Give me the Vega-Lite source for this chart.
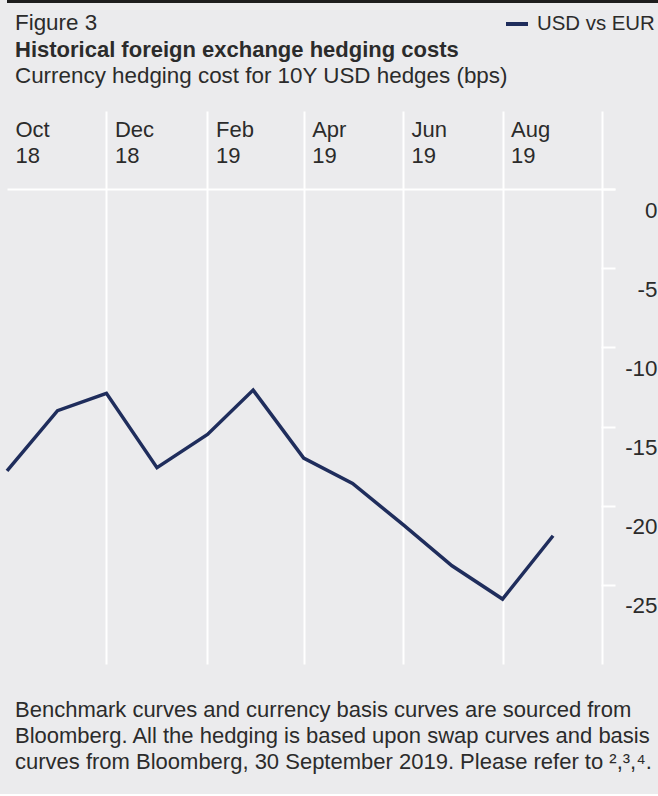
{
  "$schema": "https://vega.github.io/schema/vega-lite/v6.json",
  "background": "#ebebed",
  "padding": {"left": 0, "top": 0, "right": 0, "bottom": 21},
  "spacing": 35,
  "config": {
    "font": "Liberation Sans",
    "view": {"stroke": null}
  },
  "vconcat": [
    {
      "width": 651,
      "height": 3,
      "view": {"fill": "#1d1d1d", "stroke": null},
      "data": {"values": [{"series": "USD vs EUR"}]},
      "mark": {"type": "line", "strokeWidth": 0},
      "encoding": {
        "color": {
          "field": "series",
          "type": "nominal",
          "scale": {"range": ["#1f2d5c"]},
          "legend": {
            "orient": "none",
            "legendX": 8,
            "legendY": 11,
            "direction": "horizontal",
            "title": "Figure 3",
            "titleOrient": "left",
            "titlePadding": 406,
            "titleFont": "Liberation Sans",
            "titleFontSize": 22.4,
            "titleFontWeight": "normal",
            "titleColor": "#2b2b2b",
            "labelFont": "Liberation Sans",
            "labelFontSize": 20.4,
            "labelColor": "#2b2b2b",
            "labelOffset": 7,
            "symbolType": "stroke",
            "symbolSize": 484,
            "symbolStrokeWidth": 4,
            "padding": 0
          }
        }
      }
    },
    {
      "width": 608,
      "height": 475,
      "title": {
        "text": "Historical foreign exchange hedging costs",
        "subtitle": "Currency hedging cost for 10Y USD hedges (bps)",
        "anchor": "start",
        "frame": "group",
        "dx": 8,
        "offset": 22,
        "font": "Liberation Sans",
        "fontSize": 22,
        "fontWeight": "bold",
        "color": "#2b2b2b",
        "subtitleFont": "Liberation Sans",
        "subtitleFontSize": 22.4,
        "subtitleColor": "#2b2b2b",
        "subtitlePadding": 3
      },
      "data": {
        "values": [
          {"date": "2018-10-01", "value": -17.8},
          {"date": "2018-11-01", "value": -14.0},
          {"date": "2018-12-01", "value": -12.9},
          {"date": "2019-01-01", "value": -17.6},
          {"date": "2019-02-01", "value": -15.5},
          {"date": "2019-03-01", "value": -12.7},
          {"date": "2019-04-01", "value": -17.0},
          {"date": "2019-05-01", "value": -18.6},
          {"date": "2019-06-01", "value": -21.2},
          {"date": "2019-07-01", "value": -23.8},
          {"date": "2019-08-01", "value": -25.9},
          {"date": "2019-09-01", "value": -21.9}
        ]
      },
      "mark": {"type": "line", "color": "#1f2d5c", "strokeWidth": 3.5},
      "encoding": {
        "x": {
          "field": "date",
          "type": "temporal",
          "scale": {
            "type": "utc",
            "nice": false,
            "domain": [
              {"year": 2018, "month": 10, "date": 1, "utc": true},
              {"year": 2019, "month": 10, "date": 9, "utc": true}
            ]
          },
          "axis": {
            "orient": "top",
            "title": null,
            "values": [
              {"year": 2018, "month": 10, "date": 1, "utc": true},
              {"year": 2018, "month": 12, "date": 1, "utc": true},
              {"year": 2019, "month": 2, "date": 1, "utc": true},
              {"year": 2019, "month": 4, "date": 1, "utc": true},
              {"year": 2019, "month": 6, "date": 1, "utc": true},
              {"year": 2019, "month": 8, "date": 1, "utc": true},
              {"year": 2019, "month": 10, "date": 1, "utc": true}
            ],
            "domain": false,
            "ticks": true,
            "tickSize": 78,
            "tickColor": "#ffffff",
            "tickWidth": 2,
            "tickOpacity": {"condition": {"test": "utcyear(datum.value) == 2018 && utcmonth(datum.value) == 9", "value": 0}, "value": 1},
            "grid": true,
            "gridColor": "#ffffff",
            "gridWidth": 2,
            "gridOpacity": {"condition": {"test": "utcyear(datum.value) == 2018 && utcmonth(datum.value) == 9", "value": 0}, "value": 1},
            "labelExpr": "utcyear(datum.value) == 2019 && utcmonth(datum.value) == 9 ? '' : [utcFormat(datum.value, '%b'), utcFormat(datum.value, '%y')]",
            "labelAlign": "left",
            "labelBaseline": "alphabetic",
            "labelOffset": 8,
            "labelPadding": -25,
            "labelFont": "Liberation Sans",
            "labelFontSize": 22,
            "labelLineHeight": 26,
            "labelColor": "#2b2b2b",
            "labelFlush": false,
            "labelOverlap": false,
            "labelBound": false
          }
        },
        "y": {
          "field": "value",
          "type": "quantitative",
          "scale": {"domain": [-30, 0], "nice": false, "zero": false},
          "axis": {
            "orient": "right",
            "title": null,
            "values": [0, -5, -10, -15, -20, -25],
            "domain": false,
            "tickSize": -14,
            "tickColor": "#ffffff",
            "tickWidth": 2,
            "grid": true,
            "gridColor": "#ffffff",
            "gridWidth": 2,
            "gridOpacity": {"condition": {"test": "datum.value === 0", "value": 1}, "value": 0},
            "labelExpr": "datum.value < 0 ? '-' + abs(datum.value) : '' + datum.value",
            "labelAlign": "right",
            "labelBaseline": "alphabetic",
            "labelOffset": 28,
            "labelPadding": 56,
            "labelFont": "Liberation Sans",
            "labelFontSize": 22.4,
            "labelColor": "#2b2b2b",
            "labelFlush": false,
            "labelOverlap": false
          }
        }
      }
    },
    {
      "width": 651,
      "height": 1,
      "data": {"values": []},
      "mark": "point",
      "title": {
        "text": [
          "Benchmark curves and currency basis curves are sourced from",
          "Bloomberg. All the hedging is based upon swap curves and basis",
          "curves from Bloomberg, 30 September 2019. Please refer to ²,³,⁴."
        ],
        "orient": "bottom",
        "anchor": "start",
        "frame": "group",
        "dx": 8,
        "offset": 0,
        "font": "Liberation Sans",
        "fontSize": 22,
        "fontWeight": "normal",
        "color": "#2b2b2b",
        "lineHeight": 26,
        "limit": 700
      }
    }
  ]
}
